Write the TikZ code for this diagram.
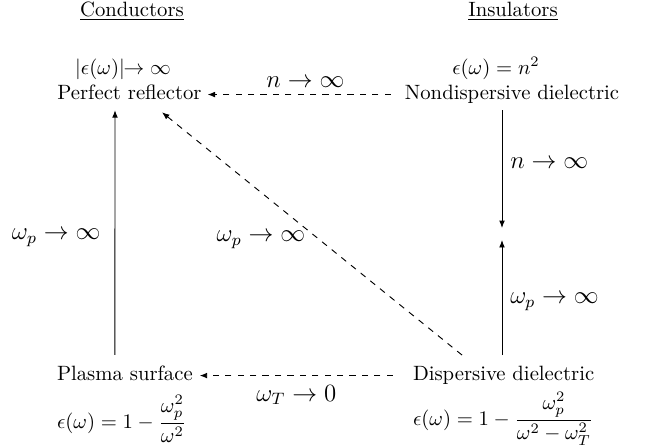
\documentclass[tikz,border=0pt]{standalone}
\usepackage{amsmath}
\usetikzlibrary{arrows.meta}
\begin{document}
\begin{tikzpicture}[x=0.483pt,y=-0.483pt,
  txt/.style={inner sep=0pt,outer sep=0pt},
  lbl/.style={inner sep=0pt,outer sep=0pt,font=\large},
  arr/.style={-{Latex[length=3.6pt,width=2.8pt]},line width=0.45pt},
  darr/.style={arr,dashed}]
\useasboundingbox (0,0) rectangle (651,447);
% headings
\node[txt,anchor=base] (cond) at (132,16) {\underline{Conductors}};
\node[txt,anchor=base] (ins) at (513,16) {\underline{Insulators}};
% top row
\node[txt,anchor=base] (pr) at (129.5,99) {Perfect reflector};
\node[txt,anchor=base] (prf) at (123,74) {$|\epsilon(\omega)|\!\!\rightarrow \infty$};
\node[txt,anchor=base] (nd) at (512,99) {Nondispersive dielectric};
\node[txt,anchor=base] (ndf) at (496,74) {$\epsilon(\omega) = n^2$};
% bottom row
\node[txt,anchor=base west] (ps) at (57,380) {Plasma surface};
\node[txt,anchor=west] (psf) at (57,419) {$\epsilon(\omega) = 1 - \dfrac{\omega_p^2}{\omega^2}$};
\node[txt,anchor=base west] (dd) at (413,380) {Dispersive dielectric};
\node[txt,anchor=west] (ddf) at (413,419) {$\epsilon(\omega) = 1 - \dfrac{\omega_p^2}{\omega^2-\omega_T^2}$};
% points on the right vertical line
\coordinate (top) at (502,110);
\coordinate (m1) at (502,228);
\coordinate (m2) at (502,240);
% connectors
\draw[darr] ([xshift=-6.8pt]nd.mid west) -- node[lbl,above=3.4pt,xshift=3pt] (l1) {$n\rightarrow\infty$} ([xshift=2.9pt]pr.mid east);
\draw[darr] ([xshift=-9.7pt]dd.mid west) -- node[lbl,below=4.6pt,xshift=0pt] (l2) {$\omega_T\rightarrow 0$} ([xshift=3.4pt]ps.mid east);
\draw[arr] ([xshift=-4.8pt,yshift=5.1pt]ps.north) -- node[lbl,left=7pt,yshift=-2.5pt] (l3) {$\omega_p\rightarrow\infty$} ([xshift=-7pt,yshift=-5.3pt]pr.south);
\draw[darr] ([xshift=23.7pt,yshift=5.1pt]dd.north west) -- ([xshift=15.7pt,yshift=-6.3pt]pr.south);
\node[lbl] (l4) at (261,240) {$\omega_p\rightarrow\infty$};
\draw[arr] (top) -- node[lbl,right=4pt,yshift=3pt] (l5) {$n\rightarrow\infty$} (m1);
\draw[arr] ([yshift=5.1pt]dd.north -| m2) -- node[lbl,right=4pt,yshift=-2pt] (l6) {$\omega_p\rightarrow\infty$} (m2);
\end{tikzpicture}
\end{document}
